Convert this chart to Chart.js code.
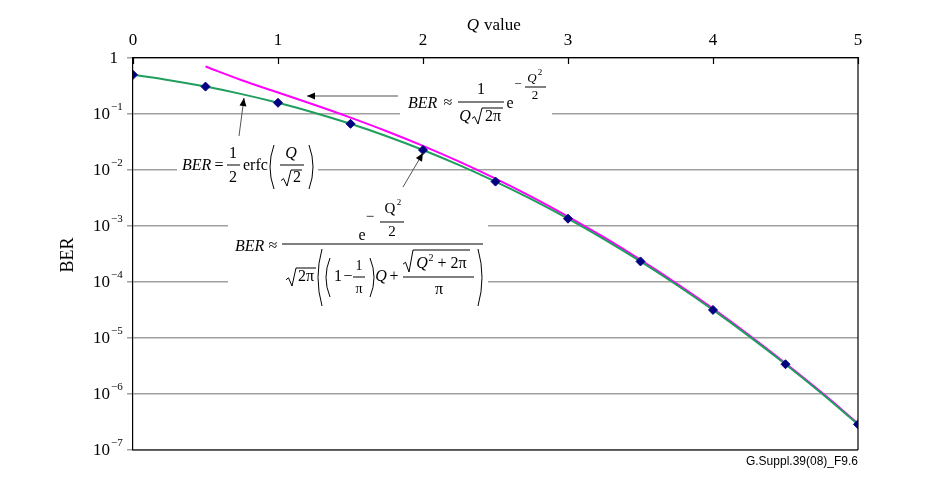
<!DOCTYPE html>
<html>
<head>
<meta charset="utf-8">
<script src="https://cdn.jsdelivr.net/npm/chart.js@4/dist/chart.umd.min.js"></script>
<style>
  html, body { margin: 0; padding: 0; background: #fff; }
  #wrap { width: 940px; height: 488px; }
</style>
</head>
<body>
<div id="wrap"><canvas id="ber-chart" width="940" height="488"></canvas></div>
<script>
/* ── data ───────────────────────────────────────────────── */
const qFine = [0, 0.25, 0.5, 0.75, 1, 1.25, 1.5, 1.75, 2, 2.25, 2.5, 2.75, 3, 3.25, 3.5, 3.75, 4, 4.25, 4.5, 4.75, 5];
const berErfc = [0.5, 0.401, 0.3085, 0.2266, 0.1587, 0.1056, 0.0668, 0.0401, 0.02275, 0.01222, 0.00621, 0.00298,
                 0.00135, 5.77e-4, 2.33e-4, 8.84e-5, 3.17e-5, 1.07e-5, 3.40e-6, 1.02e-6, 2.87e-7];

const qApprox = [0.5, 0.75, 1, 1.25, 1.5, 1.75, 2, 2.25, 2.5, 2.75, 3, 3.25, 3.5, 3.75, 4, 4.25, 4.5, 4.75, 5];
const berApprox = [0.704, 0.401, 0.242, 0.146, 0.0863, 0.0493, 0.0270, 0.0141, 0.00702, 0.00331, 0.001477,
                   6.24e-4, 2.49e-4, 9.39e-5, 3.35e-5, 1.12e-5, 3.55e-6, 1.06e-6, 2.97e-7];

const qMarks = [0, 0.5, 1, 1.5, 2, 2.5, 3, 3.5, 4, 4.5, 5];
const berMarks = [0.5, 0.3085, 0.1587, 0.0668, 0.02275, 0.00621, 0.00135, 2.33e-4, 3.17e-5, 3.40e-6, 2.87e-7];

const xTicks = [0, 1, 2, 3, 4, 5];
const yTicks = [1, 1e-1, 1e-2, 1e-3, 1e-4, 1e-5, 1e-6, 1e-7];
const yTickExp = ['', '−1', '−2', '−3', '−4', '−5', '−6', '−7'];

const SERIF = "'Liberation Serif', 'Times New Roman', serif";
const F = 16; // formula font size

/* ── drawing helpers ────────────────────────────────────── */
function txt(ctx, s, x, y, size, opts = {}) {
  ctx.save();
  ctx.font = `${opts.italic ? 'italic ' : ''}${size}px ${opts.family || SERIF}`;
  ctx.fillStyle = opts.color || '#000';
  ctx.textAlign = opts.align || 'center';
  ctx.textBaseline = 'middle';
  ctx.fillText(s, x, y);
  ctx.restore();
}

function hline(ctx, x1, x2, y, w = 1, color = '#000') {
  ctx.save();
  ctx.strokeStyle = color; ctx.lineWidth = w;
  ctx.beginPath(); ctx.moveTo(x1, y); ctx.lineTo(x2, y); ctx.stroke();
  ctx.restore();
}

function radical(ctx, x, top, bottom, x2) {
  ctx.save();
  ctx.strokeStyle = '#000'; ctx.lineWidth = 1;
  const mid = bottom - (bottom - top) * 0.4;
  ctx.beginPath();
  ctx.moveTo(x, mid + 1);
  ctx.lineTo(x + 2.5, mid - 1);
  ctx.lineTo(x + 6, bottom);
  ctx.lineTo(x + 10, top);
  ctx.lineTo(x2, top);
  ctx.stroke();
  ctx.restore();
}

function paren(ctx, x, top, bottom, left) {
  ctx.save();
  ctx.strokeStyle = '#000'; ctx.lineWidth = 1;
  const bow = left ? -5 : 5;
  ctx.beginPath();
  ctx.moveTo(x, top);
  ctx.quadraticCurveTo(x + bow * 1.6, (top + bottom) / 2, x, bottom);
  ctx.stroke();
  ctx.restore();
}

function arrow(ctx, x1, y1, x2, y2) {
  ctx.save();
  ctx.strokeStyle = '#555'; ctx.fillStyle = '#000'; ctx.lineWidth = 1;
  ctx.beginPath(); ctx.moveTo(x1, y1); ctx.lineTo(x2, y2); ctx.stroke();
  const a = Math.atan2(y2 - y1, x2 - x1), L = 8, W = 3.5;
  ctx.beginPath();
  ctx.moveTo(x2, y2);
  ctx.lineTo(x2 - L * Math.cos(a) + W * Math.sin(a), y2 - L * Math.sin(a) - W * Math.cos(a));
  ctx.lineTo(x2 - L * Math.cos(a) - W * Math.sin(a), y2 - L * Math.sin(a) + W * Math.cos(a));
  ctx.closePath(); ctx.fill();
  ctx.restore();
}

/* ── plugin: frame, labels, formulas ────────────────────── */
const decorPlugin = {
  id: 'decor',
  beforeDatasetsDraw(chart) {
    const ctx = chart.ctx;
    ctx.save();
    ctx.fillStyle = '#fff';
    ctx.fillRect(400, 72, 152, 50);   // 1/(Q√2π) formula
    ctx.fillRect(177, 142, 141, 50);  // erfc formula
    ctx.fillRect(228, 200, 260, 108); // long formula
    ctx.restore();
  },
  afterDraw(chart) {
    const ctx = chart.ctx;
    const { left, right, top, bottom } = chart.chartArea;
    const xs = chart.scales.x, ys = chart.scales.y;

    // frame
    hline(ctx, left, right, bottom, 1.2);
    ctx.save(); ctx.strokeStyle = '#000'; ctx.lineWidth = 1.2;
    ctx.beginPath(); ctx.moveTo(right, top); ctx.lineTo(right, bottom); ctx.stroke();
    // x ticks point into the plot
    xTicks.forEach(v => {
      const px = Math.round(xs.getPixelForValue(v)) + 0.5;
      ctx.beginPath(); ctx.moveTo(px, top); ctx.lineTo(px, top + 6); ctx.stroke();
    });
    ctx.restore();

    // tick labels
    xTicks.forEach(v => txt(ctx, String(v), xs.getPixelForValue(v), 41, 17));
    yTicks.forEach((v, i) => {
      const py = ys.getPixelForValue(v);
      if (i === 0) { txt(ctx, '1', 118, py + 1, 17, { align: 'right' }); return; }
      txt(ctx, '10', 110, py + 1, 17, { align: 'right' });
      txt(ctx, yTickExp[i], 111, py - 7, 11, { align: 'left' });
    });

    // axis titles
    txt(ctx, 'Q', 473, 26, 17, { italic: true });
    txt(ctx, 'value', 484, 26, 17, { align: 'left' });
    ctx.save();
    ctx.translate(68, 255); ctx.rotate(-Math.PI / 2);
    txt(ctx, 'BER', 0, 0, 18);
    ctx.restore();

    // formula: BER ≈ 1/(Q√2π) e^(-Q²/2)
    txt(ctx, 'BER', 408, 104, F, { italic: true, align: 'left' });
    txt(ctx, '≈', 448, 103, F);
    txt(ctx, '1', 481, 90, F);
    hline(ctx, 458, 504, 102);
    txt(ctx, 'Q', 465, 117, F, { italic: true });
    radical(ctx, 472, 108, 124, 503);
    txt(ctx, '2π', 493, 117, F);
    txt(ctx, 'e', 510, 104, F);
    txt(ctx, '−', 518, 85, 13);
    txt(ctx, 'Q', 532, 79, 13, { italic: true });
    txt(ctx, '2', 540, 73, 9);
    hline(ctx, 525, 546, 87);
    txt(ctx, '2', 535, 96, 13);

    // formula: BER = 1/2 erfc(Q/√2)
    txt(ctx, 'BER', 182, 166, F, { italic: true, align: 'left' });
    txt(ctx, '=', 219, 166, F);
    txt(ctx, '1', 233, 154, F);
    hline(ctx, 227, 240, 165);
    txt(ctx, '2', 233, 178, F);
    txt(ctx, 'erfc', 243, 166, F, { align: 'left' });
    paren(ctx, 274, 145, 189, true);
    txt(ctx, 'Q', 291, 154, F, { italic: true });
    hline(ctx, 280, 304, 165);
    radical(ctx, 281, 170, 186, 302);
    txt(ctx, '2', 297, 178, F);
    paren(ctx, 309, 145, 189, false);

    // formula: long approximation
    txt(ctx, 'BER', 235, 247, F, { italic: true, align: 'left' });
    txt(ctx, '≈', 273, 246, F);
    hline(ctx, 282, 483, 244);
    txt(ctx, 'e', 362, 236, F);
    txt(ctx, '−', 370, 217, 15);
    txt(ctx, 'Q', 390, 209, 15);
    txt(ctx, '2', 399, 203, 9);
    hline(ctx, 380, 404, 222);
    txt(ctx, '2', 392, 232, 15);

    radical(ctx, 286, 268, 286, 316);
    txt(ctx, '2π', 306, 277, F);
    paren(ctx, 322, 249, 306, true);
    paren(ctx, 330, 258, 297, true);
    txt(ctx, '1', 338, 277, F);
    txt(ctx, '−', 348, 277, F);
    txt(ctx, '1', 359, 266, 14);
    hline(ctx, 353, 365, 277);
    txt(ctx, 'π', 359, 289, 14);
    paren(ctx, 370, 258, 297, false);
    txt(ctx, 'Q', 381, 277, F, { italic: true });
    txt(ctx, '+', 394, 277, F);
    radical(ctx, 403, 250, 272, 470);
    txt(ctx, 'Q', 422, 264, F, { italic: true });
    txt(ctx, '2', 431, 258, 10);
    txt(ctx, '+ 2π', 452, 264, F);
    hline(ctx, 403, 474, 277);
    txt(ctx, 'π', 439, 290, F);
    paren(ctx, 478, 249, 306, false);

    // arrows
    arrow(ctx, 398, 96, 307, 96);
    arrow(ctx, 239, 136, 244, 98);
    arrow(ctx, 403, 187, 423, 153);

    // figure id
    txt(ctx, 'G.Suppl.39(08)_F9.6', 858, 462, 12, { align: 'right', family: "'Liberation Sans', Arial, sans-serif" });
  }
};

/* ── chart ──────────────────────────────────────────────── */
const ctx = document.getElementById('ber-chart').getContext('2d');
new Chart(ctx, {
  type: 'line',
  data: {
    datasets: [
      {
        label: 'BER points',
        data: qMarks.map((q, i) => ({ x: q, y: berMarks[i] })),
        showLine: false,
        pointStyle: 'rectRot',
        pointRadius: 4.5,
        pointBackgroundColor: '#000080',
        pointBorderColor: '#000080',
      },
      {
        label: 'BER = 1/2 erfc(Q/√2)',
        data: qFine.map((q, i) => ({ x: q, y: berErfc[i] })),
        borderColor: '#1f9e5e',
        borderWidth: 2,
        pointRadius: 0,
        cubicInterpolationMode: 'monotone',
      },
      {
        label: 'BER ≈ 1/(Q√2π) e^(-Q²/2)',
        data: qApprox.map((q, i) => ({ x: q, y: berApprox[i] })),
        borderColor: '#ff00ff',
        borderWidth: 2,
        pointRadius: 0,
        cubicInterpolationMode: 'monotone',
      }
    ]
  },
  options: {
    responsive: false,
    animation: false,
    layout: { padding: { left: 0, top: 0, right: 82, bottom: 38 } },
    plugins: { legend: { display: false }, tooltip: { enabled: false } },
    scales: {
      x: {
        type: 'linear',
        position: 'top',
        min: 0, max: 5,
        afterBuildTicks: s => { s.ticks = xTicks.map(v => ({ value: v })); },
        afterFit: s => { s.height = 58; },
        grid: { display: false },
        border: { display: true, color: '#000', width: 1.2 },
        ticks: { display: false }
      },
      y: {
        type: 'logarithmic',
        min: 1e-7, max: 1,
        afterBuildTicks: s => { s.ticks = yTicks.map(v => ({ value: v })); },
        afterFit: s => { s.width = 133; },
        grid: { color: '#a0a0a0', lineWidth: 1.5, drawTicks: true, tickLength: 6 },
        border: { display: true, color: '#000', width: 1.2 },
        ticks: { display: false }
      }
    }
  },
  plugins: [decorPlugin]
});
</script>
</body>
</html>
